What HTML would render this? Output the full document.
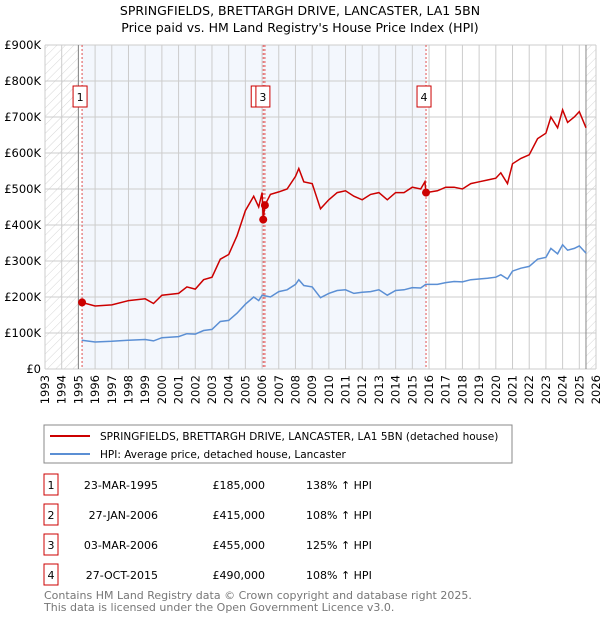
<!DOCTYPE html>
<html><head><meta charset="utf-8"><style>
body{margin:0;background:#fff;font-family:"Liberation Sans","DejaVu Sans",sans-serif;}
svg text{font-family:"DejaVu Sans","Liberation Sans",sans-serif;}
</style></head><body>
<svg id="c" width="600" height="620" xmlns="http://www.w3.org/2000/svg">
<defs><pattern id="h" width="6" height="6" patternUnits="userSpaceOnUse" patternTransform="rotate(45)"><line x1="0" y1="0" x2="0" y2="6" stroke="#ccc" stroke-width="0.8"/></pattern></defs>
<text x="300" y="15" text-anchor="middle" font-size="12.5">SPRINGFIELDS, BRETTARGH DRIVE, LANCASTER, LA1 5BN</text>
<text x="300" y="32" text-anchor="middle" font-size="12.5">Price paid vs. HM Land Registry's House Price Index (HPI)</text>
<g id="plot"></g>
<rect x="44" y="425" width="468" height="38" fill="#fff" stroke="#888"/>
<line x1="50" y1="436" x2="90" y2="436" stroke="#cc0000" stroke-width="2"/>
<text x="100" y="440" font-size="10.5">SPRINGFIELDS, BRETTARGH DRIVE, LANCASTER, LA1 5BN (detached house)</text>
<line x1="50" y1="454" x2="90" y2="454" stroke="#5b8fd4" stroke-width="2"/>
<text x="100" y="458" font-size="10.5">HPI: Average price, detached house, Lancaster</text>
<g id="tbl"></g>
<text x="44" y="599" font-size="11" fill="#777">Contains HM Land Registry data © Crown copyright and database right 2025.</text>
<text x="44" y="611" font-size="11" fill="#777">This data is licensed under the Open Government Licence v3.0.</text>
</svg>
<script>
const hpiYears=[1995.2,1996,1997,1998,1999,1999.5,2000,2001,2001.5,2002,2002.5,2003,2003.5,2004,2004.5,2005,2005.5,2005.8,2006,2006.5,2007,2007.5,2008,2008.2,2008.5,2009,2009.5,2010,2010.5,2011,2011.5,2012,2012.5,2013,2013.5,2014,2014.5,2015,2015.5,2015.8,2016.5,2017,2017.5,2018,2018.5,2019,2019.5,2020,2020.3,2020.7,2021,2021.5,2022,2022.5,2023,2023.3,2023.7,2024,2024.3,2024.7,2025,2025.4];
const hpiValues=[80,75,77,80,82,78,87,90,98,97,107,110,132,135,155,180,200,190,205,200,215,220,235,248,232,228,198,210,218,220,210,213,215,220,205,218,220,226,225,235,235,240,243,242,248,250,252,255,262,250,272,280,285,305,310,335,320,345,330,335,342,322];
const priceYears=[1995.2,1996,1997,1998,1999,1999.5,2000,2001,2001.5,2002,2002.5,2003,2003.5,2004,2004.5,2005,2005.5,2005.8,2006,2006.07,2006.17,2006.5,2007,2007.5,2008,2008.2,2008.5,2009,2009.5,2010,2010.5,2011,2011.5,2012,2012.5,2013,2013.5,2014,2014.5,2015,2015.5,2015.75,2015.82,2016.5,2017,2017.5,2018,2018.5,2019,2019.5,2020,2020.3,2020.7,2021,2021.5,2022,2022.5,2023,2023.3,2023.7,2024,2024.3,2024.7,2025,2025.4];
const priceValues=[185,175,178,190,195,182,205,210,228,222,248,255,305,318,370,440,480,450,490,415,455,485,492,500,535,557,520,515,445,470,490,495,480,470,485,490,470,490,490,505,500,520,490,495,505,505,500,515,520,525,530,545,515,570,585,595,640,655,700,670,720,685,700,715,670];
const saleLabels=["1","2","3","4"];
const saleYears=[1995.22,2006.07,2006.17,2015.82];
const salePrices=[185,415,455,490];
const saleDates=["23-MAR-1995","27-JAN-2006","03-MAR-2006","27-OCT-2015"];
const salePriceText=["£185,000","£415,000","£455,000","£490,000"];
const saleHpiText=["138% ↑ HPI","108% ↑ HPI","125% ↑ HPI","108% ↑ HPI"];
const yTicks=[0,100,200,300,400,500,600,700,800,900];
const yTickLabels=["£0","£100K","£200K","£300K","£400K","£500K","£600K","£700K","£800K","£900K"];
const x0=45,x1=596,y0=369,yT=45;
const X=y=>x0+(y-1993)/33*(x1-x0);
const Y=v=>y0-v/900*(y0-yT);
const NS="http://www.w3.org/2000/svg";
const g=document.getElementById('plot');
function mk(t,a,p){const e=document.createElementNS(NS,t);for(const k in a)e.setAttribute(k,a[k]);(p||g).appendChild(e);return e;}
let e;
e=mk('rect',{x:X(1995.22),y:yT,width:X(2015.82)-X(1995.22),height:y0-yT,fill:'#eef3fc',opacity:0.7});

e=mk('rect',{x:x0,y:yT,width:X(1995)-x0,height:y0-yT,fill:'url(#h)'});

e=mk('rect',{x:X(2025.4),y:yT,width:x1-X(2025.4),height:y0-yT,fill:'url(#h)'});

for(let yr=1993;yr<=2026;yr++){
 e=mk('line',{x1:X(yr),x2:X(yr),y1:yT,y2:y0,stroke:'#ccc','stroke-width':1});
 
 const t=mk('text',{x:0,y:0,'font-size':11.5,'text-anchor':'end',transform:`translate(${X(yr)+4},${y0+6}) rotate(-90)`});
 t.textContent=yr;
}
yTicks.forEach((v,i)=>{
 e=mk('line',{x1:x0,x2:x1,y1:Y(v),y2:Y(v),stroke:'#ccc','stroke-width':1});
 
 const t=mk('text',{x:x0-4,y:Y(v)+4,'font-size':11.5,'text-anchor':'end'});
 t.textContent=yTickLabels[i];
});
e=mk('line',{x1:X(1995),x2:X(1995),y1:yT,y2:y0,stroke:'#888'});

e=mk('line',{x1:X(2025.4),x2:X(2025.4),y1:yT,y2:y0,stroke:'#888'});

saleYears.forEach((sy,i)=>{
 e=mk('line',{x1:X(sy),x2:X(sy),y1:yT,y2:y0,stroke:'#e05050','stroke-dasharray':'2,2','stroke-width':1});
 
});
function path(xs,vs,c,n){let d=xs.map((x,i)=>(i?'L':'M')+X(x).toFixed(1)+','+Y(vs[i]).toFixed(1)).join('');
 const p=mk('path',{d:d,fill:'none',stroke:c,'stroke-width':1.5});}
path(hpiYears,hpiValues,'#5b8fd4','hpi-line');
path(priceYears,priceValues,'#cc0000','price-line');
saleYears.forEach((sy,i)=>{
 e=mk('circle',{cx:X(sy),cy:Y(salePrices[i]),r:4,fill:'#cc0000'});
 
});
[0,1,2,3].forEach(i=>{
 const bx=X(saleYears[i])-9-(i==1?3:0);
 e=mk('rect',{x:bx,y:86,width:14,height:21,fill:'#fff',stroke:'#cc0000'});
 
 const t=mk('text',{x:bx+7,y:101,'font-size':11,'text-anchor':'middle'});t.textContent=saleLabels[i];
 
});
const tb=document.getElementById('tbl');
saleLabels.forEach((l,i)=>{
 const yy=484+i*30;
 e=mk('rect',{x:44,y:yy-10,width:14,height:21,fill:'#fff',stroke:'#cc0000'},tb);
 
 const cells=[[51,l,'middle'],[158,saleDates[i],'end'],[265,salePriceText[i],'end'],[306,saleHpiText[i],'start']];
 cells.forEach(c=>{const t=mk('text',{x:c[0],y:yy+5,'font-size':11,'text-anchor':c[2]},tb);t.textContent=c[1];
  });
});
</script>
</body></html>
